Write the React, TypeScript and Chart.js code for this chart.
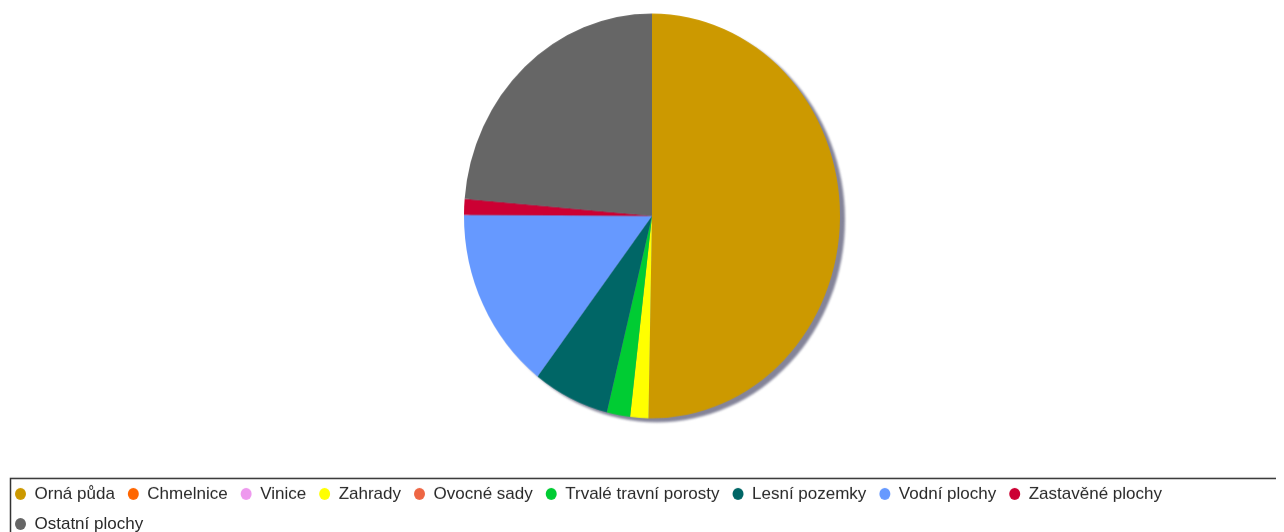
import { useEffect, useRef } from "react";
import { Chart, registerables } from "chart.js";

Chart.register(...registerables);

const categories = [
  "Orná půda",
  "Chmelnice",
  "Vinice",
  "Zahrady",
  "Ovocné sady",
  "Trvalé travní porosty",
  "Lesní pozemky",
  "Vodní plochy",
  "Zastavěné plochy",
  "Ostatní plochy",
];

const areas = [503.1, 0, 0, 15.6, 0, 20.0, 65.6, 146.7, 12.5, 236.7];

const colors = [
  "#CC9900",
  "#FF6600",
  "#EE99EE",
  "#FFFF00",
  "#EE6644",
  "#00CC33",
  "#006666",
  "#6699FF",
  "#CC0033",
  "#666666",
];

const X_SQUEEZE = 188 / 202;

const ellipsePlugin = {
  id: "ellipseShadow",
  beforeDatasetsDraw(chart: any) {
    const arc = chart.getDatasetMeta(0).data[0];
    chart.$ellipseSaved = false;
    if (!arc) return;
    const { x, y, outerRadius } = arc.getProps(["x", "y", "outerRadius"], true);
    const ctx = chart.ctx as CanvasRenderingContext2D;
    ctx.save();
    chart.$ellipseSaved = true;
    ctx.translate(x, y);
    ctx.scale(X_SQUEEZE, 1);
    ctx.translate(-x, -y);
    ctx.save();
    ctx.fillStyle = "rgba(125,125,148,0.95)";
    ctx.filter = "blur(1px)";
    ctx.beginPath();
    ctx.arc(x + 5 / X_SQUEEZE, y + 4, outerRadius, 0, Math.PI * 2);
    ctx.fill();
    ctx.restore();
  },
  afterDatasetsDraw(chart: any) {
    if (chart.$ellipseSaved) {
      chart.ctx.restore();
      chart.$ellipseSaved = false;
    }
  },
};

const legendBorderPlugin = {
  id: "legendBorder",
  afterDraw(chart: any) {
    const lg = chart.legend;
    if (!lg) return;
    const ctx = chart.ctx as CanvasRenderingContext2D;
    const top = Math.round(lg.top + lg._computeTitleHeight() + 5) + 0.5;
    ctx.save();
    ctx.strokeStyle = "#333333";
    ctx.lineWidth = 1.5;
    ctx.strokeRect(8.5, top, chart.width + 20, chart.height + 20);
    ctx.restore();
  },
};

export default function App() {
  const ref = useRef<HTMLCanvasElement | null>(null);

  useEffect(() => {
    document.body.style.overflow = "hidden";
    if (!ref.current) return;
    const chart = new Chart(ref.current, {
      type: "pie",
      data: {
        labels: categories,
        datasets: [
          {
            data: areas,
            backgroundColor: colors,
            borderWidth: 0,
            radius: 202,
          },
        ],
      },
      options: {
        animation: false,
        responsive: true,
        maintainAspectRatio: false,
        layout: { padding: 0 },
        plugins: {
          tooltip: { enabled: false },
          legend: {
            position: "bottom",
            align: "start",
            title: {
              display: true,
              text: "",
              font: { size: 10, lineHeight: 1 },
              padding: { top: 0, bottom: 38.5 },
            },
            labels: {
              usePointStyle: true,
              pointStyle: "circle",
              pointStyleWidth: 11,
              boxHeight: 8.5,
              padding: 13,
              color: "#2a2a2a",
              font: { family: "'Liberation Sans', Arial, sans-serif", size: 17 },
            },
          },
        },
      },
      plugins: [ellipsePlugin, legendBorderPlugin],
    });
    return () => chart.destroy();
  }, []);

  return (
    <div style={{ position: "relative", width: 1300, height: 533.5, marginLeft: -6 }}>
      <canvas ref={ref} />
    </div>
  );
}
